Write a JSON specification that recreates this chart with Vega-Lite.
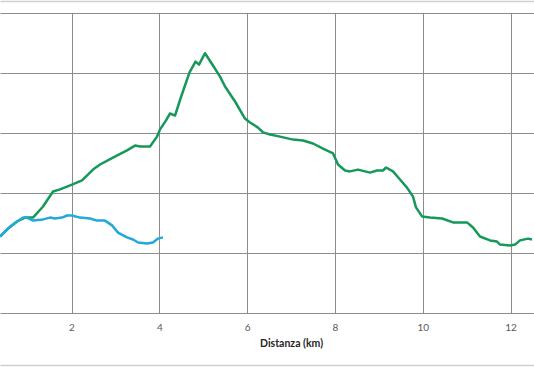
{
  "$schema": "https://vega.github.io/schema/vega-lite/v6.json",
  "width": 534,
  "height": 300,
  "autosize": {"type": "none"},
  "padding": {"top": 13, "left": 0, "right": 0, "bottom": 54},
  "background": "white",
  "config": {"view": {"stroke": null}},
  "data": {"values": [
    {"serie": "A", "km": 0.371, "quota": 127.5},
    {"serie": "A", "km": 0.531, "quota": 139},
    {"serie": "A", "km": 0.759, "quota": 152.5},
    {"serie": "A", "km": 0.941, "quota": 159},
    {"serie": "A", "km": 1.123, "quota": 159},
    {"serie": "A", "km": 1.351, "quota": 177.5},
    {"serie": "A", "km": 1.579, "quota": 202.5},
    {"serie": "A", "km": 1.738, "quota": 206},
    {"serie": "A", "km": 2.011, "quota": 214},
    {"serie": "A", "km": 2.239, "quota": 221},
    {"serie": "A", "km": 2.49, "quota": 239},
    {"serie": "A", "km": 2.649, "quota": 247.5},
    {"serie": "A", "km": 2.945, "quota": 259},
    {"serie": "A", "km": 3.264, "quota": 271},
    {"serie": "A", "km": 3.447, "quota": 279},
    {"serie": "A", "km": 3.56, "quota": 277.5},
    {"serie": "A", "km": 3.788, "quota": 277.5},
    {"serie": "A", "km": 3.948, "quota": 294},
    {"serie": "A", "km": 4.016, "quota": 306},
    {"serie": "A", "km": 4.153, "quota": 321},
    {"serie": "A", "km": 4.244, "quota": 332.5},
    {"serie": "A", "km": 4.358, "quota": 329},
    {"serie": "A", "km": 4.483, "quota": 357.5},
    {"serie": "A", "km": 4.688, "quota": 401},
    {"serie": "A", "km": 4.825, "quota": 419},
    {"serie": "A", "km": 4.904, "quota": 414},
    {"serie": "A", "km": 5.041, "quota": 433},
    {"serie": "A", "km": 5.223, "quota": 412.5},
    {"serie": "A", "km": 5.383, "quota": 394},
    {"serie": "A", "km": 5.497, "quota": 377.5},
    {"serie": "A", "km": 5.725, "quota": 352.5},
    {"serie": "A", "km": 5.952, "quota": 324},
    {"serie": "A", "km": 6.066, "quota": 317.5},
    {"serie": "A", "km": 6.248, "quota": 309},
    {"serie": "A", "km": 6.362, "quota": 301},
    {"serie": "A", "km": 6.522, "quota": 297.5},
    {"serie": "A", "km": 6.75, "quota": 294},
    {"serie": "A", "km": 7.046, "quota": 289},
    {"serie": "A", "km": 7.274, "quota": 287.5},
    {"serie": "A", "km": 7.501, "quota": 282.5},
    {"serie": "A", "km": 7.729, "quota": 274},
    {"serie": "A", "km": 7.957, "quota": 266},
    {"serie": "A", "km": 8.071, "quota": 247.5},
    {"serie": "A", "km": 8.23, "quota": 237.5},
    {"serie": "A", "km": 8.344, "quota": 236},
    {"serie": "A", "km": 8.526, "quota": 239},
    {"serie": "A", "km": 8.8, "quota": 234},
    {"serie": "A", "km": 8.959, "quota": 237.5},
    {"serie": "A", "km": 9.096, "quota": 237.5},
    {"serie": "A", "km": 9.164, "quota": 242.5},
    {"serie": "A", "km": 9.323, "quota": 236},
    {"serie": "A", "km": 9.483, "quota": 222.5},
    {"serie": "A", "km": 9.642, "quota": 209},
    {"serie": "A", "km": 9.779, "quota": 194},
    {"serie": "A", "km": 9.847, "quota": 176},
    {"serie": "A", "km": 9.984, "quota": 161},
    {"serie": "A", "km": 10.166, "quota": 159},
    {"serie": "A", "km": 10.44, "quota": 157.5},
    {"serie": "A", "km": 10.69, "quota": 151},
    {"serie": "A", "km": 11.009, "quota": 151},
    {"serie": "A", "km": 11.146, "quota": 142.5},
    {"serie": "A", "km": 11.305, "quota": 127.5},
    {"serie": "A", "km": 11.533, "quota": 121},
    {"serie": "A", "km": 11.693, "quota": 119},
    {"serie": "A", "km": 11.761, "quota": 114},
    {"serie": "A", "km": 11.989, "quota": 112.5},
    {"serie": "A", "km": 12.103, "quota": 114},
    {"serie": "A", "km": 12.216, "quota": 121},
    {"serie": "A", "km": 12.399, "quota": 124},
    {"serie": "A", "km": 12.49, "quota": 122.5},
    {"serie": "B", "km": 0.371, "quota": 127.5},
    {"serie": "B", "km": 0.599, "quota": 144},
    {"serie": "B", "km": 0.759, "quota": 152.5},
    {"serie": "B", "km": 0.895, "quota": 159},
    {"serie": "B", "km": 0.986, "quota": 159},
    {"serie": "B", "km": 1.123, "quota": 154},
    {"serie": "B", "km": 1.351, "quota": 156},
    {"serie": "B", "km": 1.51, "quota": 159},
    {"serie": "B", "km": 1.624, "quota": 157.5},
    {"serie": "B", "km": 1.784, "quota": 159},
    {"serie": "B", "km": 1.897, "quota": 162.5},
    {"serie": "B", "km": 2.011, "quota": 162.5},
    {"serie": "B", "km": 2.194, "quota": 159},
    {"serie": "B", "km": 2.421, "quota": 157.5},
    {"serie": "B", "km": 2.581, "quota": 154},
    {"serie": "B", "km": 2.763, "quota": 154},
    {"serie": "B", "km": 2.923, "quota": 146},
    {"serie": "B", "km": 3.059, "quota": 134},
    {"serie": "B", "km": 3.264, "quota": 126},
    {"serie": "B", "km": 3.401, "quota": 122.5},
    {"serie": "B", "km": 3.515, "quota": 117.5},
    {"serie": "B", "km": 3.72, "quota": 116},
    {"serie": "B", "km": 3.856, "quota": 117.5},
    {"serie": "B", "km": 3.97, "quota": 124},
    {"serie": "B", "km": 4.084, "quota": 126}
  ]},
  "layer": [
    {
      "mark": {"type": "line", "strokeWidth": 2.5, "clip": true, "strokeJoin": "round"},
      "encoding": {
        "x": {
          "field": "km", "type": "quantitative",
          "scale": {"domain": [0.371, 12.535], "nice": false, "zero": false},
          "axis": {
            "values": [2, 4, 6, 8, 10, 12],
            "title": "Distanza (km)",
            "titleFont": "Lato", "titleFontSize": 10.5, "titleFontWeight": "bold", "titleColor": "#262626",
            "titleX": 291, "titleY": 30, "titleBaseline": "middle",
            "labelFont": "Lato", "labelFontSize": 10, "labelColor": "#595959", "labelPadding": 9,
            "domain": false, "ticks": false,
            "grid": true, "gridColor": "#8c8c8c", "gridWidth": 1
          }
        },
        "y": {
          "field": "quota", "type": "quantitative",
          "scale": {"domain": [0, 500], "nice": false},
          "axis": {
            "values": [0, 100, 200, 300, 400, 500],
            "title": null, "labels": false, "ticks": false, "domain": false,
            "grid": true, "gridColor": "#8c8c8c", "gridWidth": 1
          }
        },
        "color": {
          "field": "serie", "type": "nominal",
          "scale": {"domain": ["A", "B"], "range": ["#16985a", "#22a9d9"]},
          "legend": null
        }
      }
    },
    {
      "mark": {"type": "rule", "opacity": 0},
      "encoding": {
        "x": {
          "field": "km", "type": "quantitative",
          "scale": {"domain": [0.371, 12.535], "nice": false, "zero": false},
          "axis": {
            "orient": "top", "offset": 12, "title": null, "labels": false, "ticks": false, "grid": false,
            "domain": true, "domainColor": "#d0d0d0", "domainWidth": 1.5
          }
        }
      }
    },
    {
      "mark": {"type": "rule", "opacity": 0},
      "encoding": {
        "x": {
          "field": "km", "type": "quantitative",
          "scale": {"domain": [0.371, 12.535], "nice": false, "zero": false},
          "axis": {
            "orient": "bottom", "offset": 52, "title": null, "labels": false, "ticks": false, "grid": false,
            "domain": true, "domainColor": "#d0d0d0", "domainWidth": 1.5
          }
        }
      }
    }
  ],
  "resolve": {"axis": {"x": "independent"}}
}
